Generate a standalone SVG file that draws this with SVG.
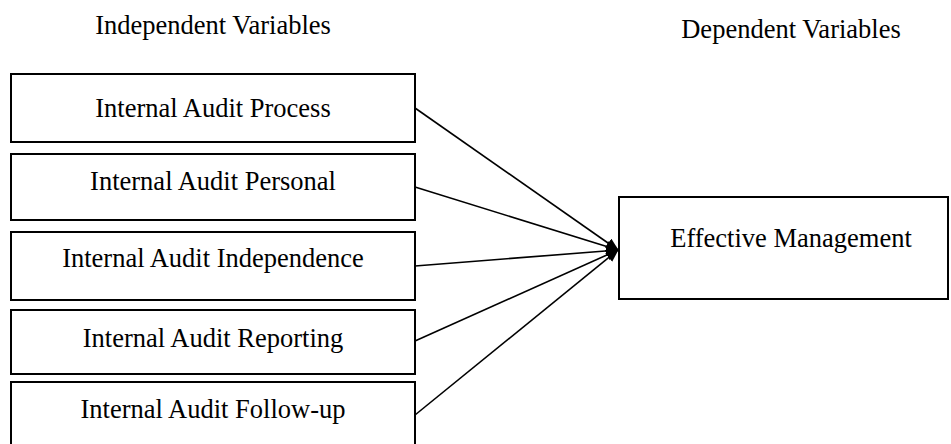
<svg xmlns="http://www.w3.org/2000/svg" width="951" height="444" viewBox="0 0 951 444">
  <style>
    .box { fill: #ffffff; stroke: #000000; stroke-width: 2; }
    .label { font-family: "Liberation Serif", "Times New Roman", serif; font-size: 26.5px; fill: #000000; text-anchor: middle; }
    .link { stroke: #000000; stroke-width: 1.6; fill: none; marker-end: url(#head); }
  </style>
  <defs>
    <marker id="head" markerWidth="13" markerHeight="11" refX="12" refY="5.5" orient="auto" markerUnits="userSpaceOnUse">
      <path d="M0,0 L13,5.5 L0,11 Z" fill="#000000"/>
    </marker>
  </defs>
  <rect width="951" height="444" fill="#ffffff"/>

  <text class="label" x="213" y="34">Independent Variables</text>
  <text class="label" x="791" y="38">Dependent Variables</text>

  <g id="connectors">
    <line class="link" x1="415" y1="108" x2="618" y2="250"/>
    <line class="link" x1="415" y1="187" x2="618" y2="250"/>
    <line class="link" x1="415" y1="266" x2="618" y2="250"/>
    <line class="link" x1="415" y1="341" x2="618" y2="250"/>
    <line class="link" x1="415" y1="415" x2="618" y2="250"/>
  </g>

  <g id="process">
    <rect class="box" x="11" y="74" width="404" height="68"/>
    <text class="label" x="213" y="117">Internal Audit Process</text>
  </g>
  <g id="personal">
    <rect class="box" x="11" y="154" width="404" height="66"/>
    <text class="label" x="213" y="190">Internal Audit Personal</text>
  </g>
  <g id="independence">
    <rect class="box" x="11" y="232" width="404" height="68"/>
    <text class="label" x="213" y="267">Internal Audit Independence</text>
  </g>
  <g id="reporting">
    <rect class="box" x="11" y="310" width="404" height="64"/>
    <text class="label" x="213" y="347">Internal Audit Reporting</text>
  </g>
  <g id="followup">
    <rect class="box" x="11" y="382" width="404" height="70"/>
    <text class="label" x="213" y="418">Internal Audit Follow-up</text>
  </g>

  <g id="effective-management">
    <rect class="box" x="619" y="197" width="329" height="102"/>
    <text class="label" x="791" y="247">Effective Management</text>
  </g>
</svg>
